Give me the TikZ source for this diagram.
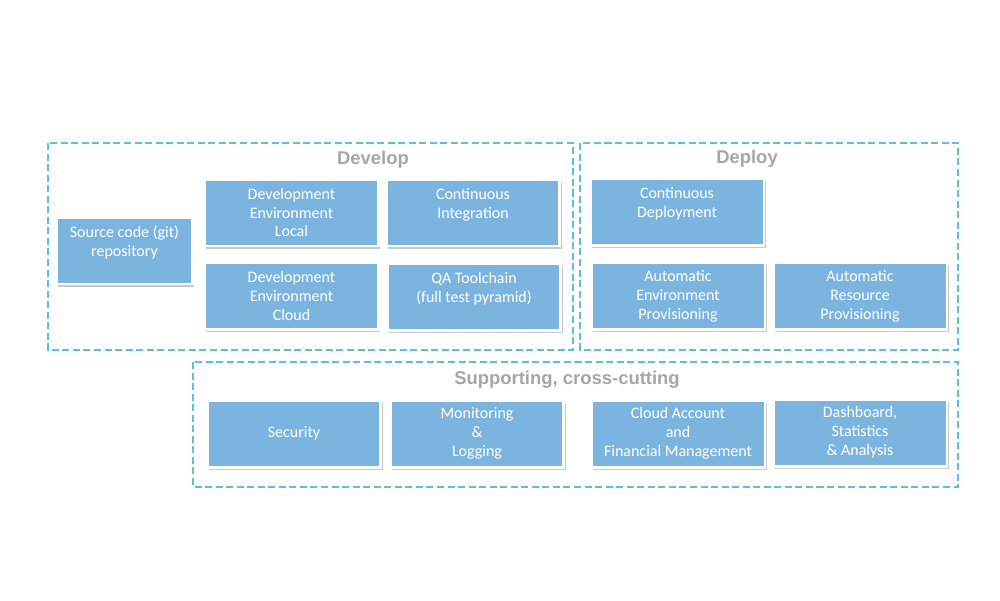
\documentclass[tikz,border=0pt]{standalone}
\usepackage{fontspec}
\setmainfont{Carlito}
\newfontfamily\titlefont{Liberation Sans}
\usetikzlibrary{shadows}
\definecolor{boxblue}{HTML}{7BB5DF}
\definecolor{frameblue}{HTML}{5BC0DE}
\definecolor{titlegray}{HTML}{A6A6A6}
\begin{document}
\begin{tikzpicture}[x=0.02cm,y=-0.02cm,
  box/.style={fill=boxblue,draw=white,line width=1.7pt,minimum width=3.48cm,minimum height=1.34cm,
    align=center,text=white,font=\fontsize{9.1}{10.8}\selectfont,
    drop shadow={shadow xshift=1.1pt,shadow yshift=-1.6pt,opacity=0.3,fill=black!70}},
  frame/.style={draw=frameblue,line width=0.85pt,dash pattern=on 4pt off 2pt},
  title/.style={text=titlegray,font=\titlefont\bfseries\fontsize{10.5}{12}\selectfont}]
\useasboundingbox (0,0) rectangle (1000,600);
% groups
\draw[frame] (48,143) rectangle (573,350);
\draw[frame] (580,143) rectangle (958,350);
\draw[frame] (193,362) rectangle (958,487);
\node[title](develop) at (373,159.5){Develop};
\node[title](deploy) at (747,158.5){Deploy};
\node[title](support) at (567,379.5){Supporting, cross-cutting};
% develop
\node[box,minimum width=2.72cm](src) at (124.5,250.5){Source code (git)\\repository\\~};
\node[box](devlocal) at (291.5,212.5){Development\\Environment\\Local};
\node[box](devcloud) at (291.5,296){Development\\Environment\\Cloud};
\node[box](ci) at (473,212.5){Continuous\\Integration\\~};
\node[box](qa) at (474,296.5){QA Toolchain\\(full test pyramid)\\~};
% deploy
\node[box](cd) at (677,212){Continuous\\Deployment\\~};
\node[box](envprov) at (678,296){Automatic\\Environment\\Provisioning};
\node[box](resprov) at (860,296){Automatic\\Resource\\Provisioning};
% supporting
\node[box](sec) at (294,433.5){Security};
\node[box](mon) at (477,433.5){Monitoring\\\&\\Logging};
\node[box](cloud) at (678,433.5){Cloud Account\\and\\Financial Management};
\node[box](dash) at (860,432.5){Dashboard,\\Statistics\\\& Analysis};
\end{tikzpicture}
\end{document}
